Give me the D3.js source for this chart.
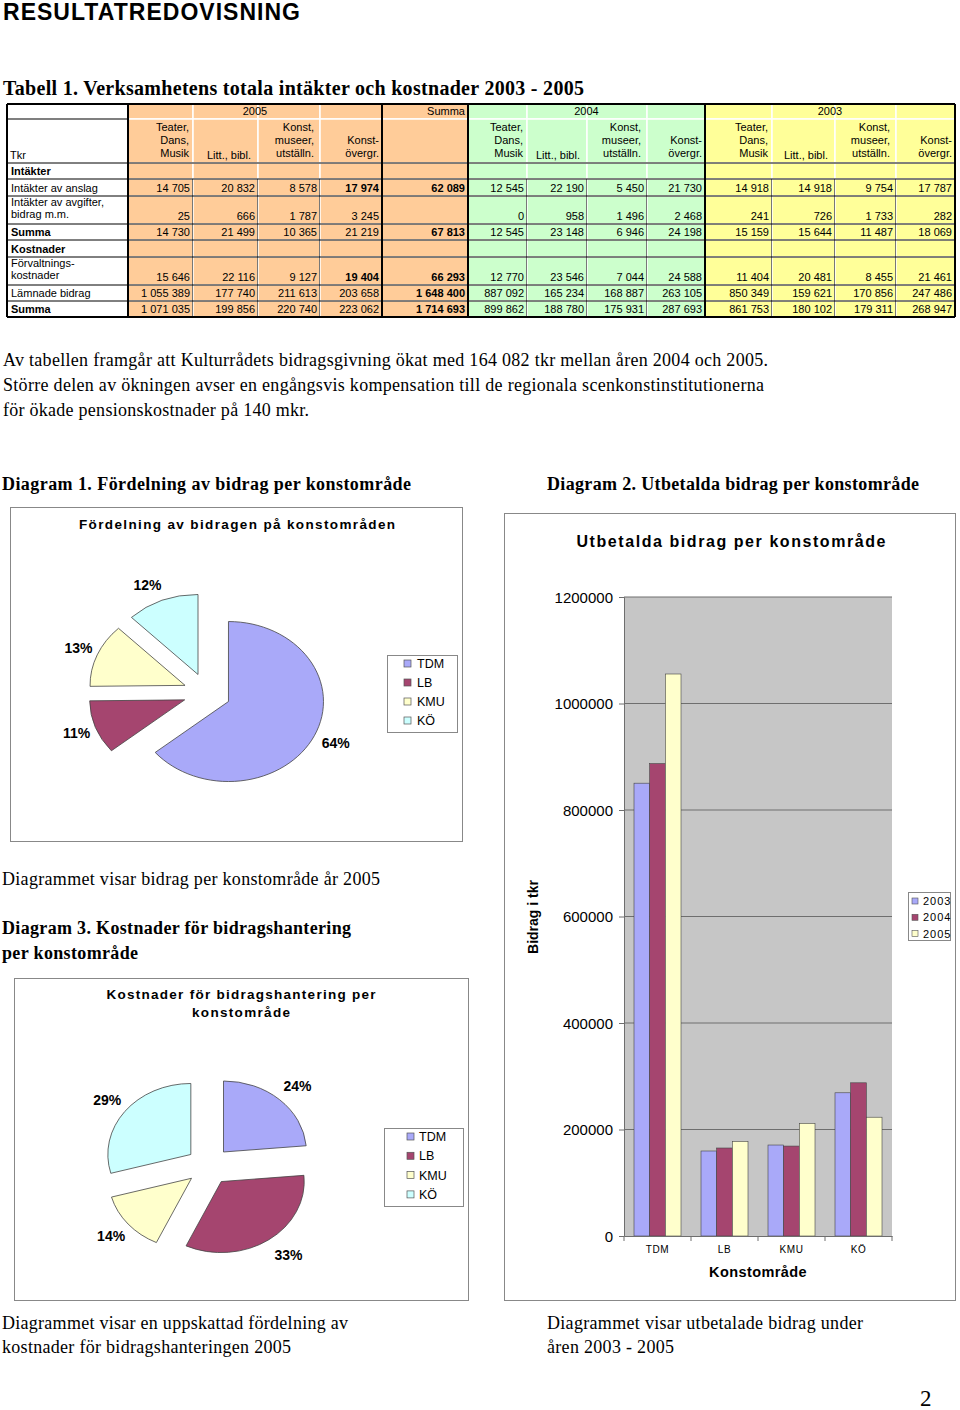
<!DOCTYPE html>
<html><head><meta charset="utf-8">
<script src="https://cdn.jsdelivr.net/npm/d3@7"></script>
<style>
html,body{margin:0;padding:0;background:#fff;}
svg{display:block;}
</style></head>
<body>
<script>
// ---------------- DATA ----------------
const categories = ["TDM", "LB", "KMU", "KÖ"];
const years = ["2003", "2004", "2005"];
// Diagram 2: utbetalda bidrag (tkr) per year
const bidrag2003 = [850349, 159621, 170856, 268947];
const bidrag2004 = [887092, 165234, 168887, 287693];
const bidrag2005 = [1055389, 177740, 211613, 223062];
const yTicks = [0, 200000, 400000, 600000, 800000, 1000000, 1200000];
// Diagram 1: lämnade bidrag 2005
const pie1Values = [1055389, 177740, 211613, 203658];
// Diagram 3: förvaltningskostnader 2005
const pie2Values = [15646, 22116, 9127, 19404];

// Table 1
const tableGroups = ["2005", "Summa", "2004", "2003"];
const tableColHeads = ["Teater,\nDans,\nMusik", "Litt., bibl.", "Konst,\nmuseer,\nutställn.", "Konst-\növergr."];
const rowLabels = [["Intäkter"], ["Intäkter av anslag"], ["Intäkter av avgifter,", " bidrag m.m."], ["Summa"], ["Kostnader"], ["Förvaltnings-", "kostnader"], ["Lämnade bidrag"], ["Summa"]];
const rowAnslag   = [14705, 20832, 8578, 17974, 62089, 12545, 22190, 5450, 21730, 14918, 14918, 9754, 17787];
const rowAvgifter = [25, 666, 1787, 3245, null, 0, 958, 1496, 2468, 241, 726, 1733, 282];
const rowSummaI   = [14730, 21499, 10365, 21219, 67813, 12545, 23148, 6946, 24198, 15159, 15644, 11487, 18069];
const rowForvalt  = [15646, 22116, 9127, 19404, 66293, 12770, 23546, 7044, 24588, 11404, 20481, 8455, 21461];
const rowLamnade  = [1055389, 177740, 211613, 203658, 1648400, 887092, 165234, 168887, 263105, 850349, 159621, 170856, 247486];
const rowSummaK   = [1071035, 199856, 220740, 223062, 1714693, 899862, 188780, 175931, 287693, 861753, 180102, 179311, 268947];

// ---------------- SETUP ----------------
const SANS = "'Liberation Sans', Arial, sans-serif";
const SERIF = "'Liberation Serif', 'Times New Roman', serif";
const seriesColors = ["#a9a9f9", "#a5456f", "#ffffcc", "#ccffff"];

const svg = d3.select("body").append("svg").attr("width", 960).attr("height", 1410);
svg.append("rect").attr("width", 960).attr("height", 1410).attr("fill", "#fff");

function txt(parent, x, y, s, o = {}) {
  const t = parent.append("text").attr("x", x).attr("y", y).text(s)
    .attr("font-family", o.family || SANS)
    .attr("font-size", o.size || 12)
    .attr("font-weight", o.bold ? "bold" : "normal")
    .attr("fill", o.fill || "#000")
    .attr("text-anchor", o.anchor || "start");
  if (o.len) t.attr("textLength", o.len).attr("lengthAdjust", "spacing");
  if (o.ls) t.attr("letter-spacing", o.ls);
  return t;
}

// ---------------- PAGE TEXT ----------------
txt(svg, 3, 20, "RESULTATREDOVISNING", {size: 23, bold: true, len: 297});
txt(svg, 3, 95, "Tabell 1. Verksamhetens totala intäkter och kostnader 2003 - 2005", {family: SERIF, size: 20, bold: true, len: 581});

txt(svg, 3, 366, "Av tabellen framgår att Kulturrådets bidragsgivning ökat med 164 082 tkr mellan åren 2004 och 2005.", {family: SERIF, size: 18, len: 765});
txt(svg, 3, 391, "Större delen av ökningen avser en engångsvis kompensation till de regionala scenkonstinstitutionerna", {family: SERIF, size: 18, len: 761});
txt(svg, 3, 416, "för ökade pensionskostnader på 140 mkr.", {family: SERIF, size: 18, len: 306});

txt(svg, 2, 490, "Diagram 1.  Fördelning av bidrag per konstområde", {family: SERIF, size: 18, bold: true, len: 409});
txt(svg, 547, 490, "Diagram 2. Utbetalda bidrag per konstområde", {family: SERIF, size: 18, bold: true, len: 372});

txt(svg, 2, 885, "Diagrammet visar bidrag per konstområde år 2005", {family: SERIF, size: 18, len: 378});
txt(svg, 2, 934, "Diagram 3. Kostnader för bidragshantering", {family: SERIF, size: 18, bold: true, len: 349});
txt(svg, 2, 959, "per konstområde", {family: SERIF, size: 18, bold: true, len: 136});

txt(svg, 2, 1329, "Diagrammet visar en uppskattad fördelning av", {family: SERIF, size: 18, len: 346});
txt(svg, 2, 1353, "kostnader för bidragshanteringen 2005", {family: SERIF, size: 18, len: 289});
txt(svg, 547, 1329, "Diagrammet visar utbetalade bidrag under", {family: SERIF, size: 18, len: 316});
txt(svg, 547, 1353, "åren 2003 - 2005", {family: SERIF, size: 18, len: 127});
txt(svg, 920, 1406, "2", {family: SERIF, size: 23});

// ---------------- TABLE ----------------
(function drawTable() {
  const sv = d3.formatLocale({decimal: ",", thousands: " ", grouping: [3], currency: ["", ""]}).format(",d");
  const xs = [7, 128, 193, 258, 320, 382, 468, 527, 587, 647, 705, 772, 835, 896, 955];
  const ys = [104, 119, 163, 179, 196, 224, 240, 257, 285, 301, 317];
  const fills = ["#ffcc99", "#ffcc99", "#ffcc99", "#ffcc99", "#ffcc99", "#ccffcc", "#ccffcc", "#ccffcc", "#ccffcc", "#ffff99", "#ffff99", "#ffff99", "#ffff99"];
  const grid = svg.append("g");
  const tg = svg.append("g");
  for (let r = 0; r < ys.length - 1; r++) {
    for (let c = 0; c < 13; c++) {
      grid.append("rect").attr("x", xs[c + 1]).attr("y", ys[r]).attr("width", xs[c + 2] - xs[c + 1]).attr("height", ys[r + 1] - ys[r])
        .attr("fill", fills[c]).attr("stroke", "#fff").attr("stroke-width", 1.5);
    }
  }
  for (let c = 1; c < 13; c++) {
    const x = xs[c + 1];
    if ([5, 6, 10].includes(c + 1)) continue;
    grid.append("line").attr("x1", x - 0.5).attr("x2", x - 0.5).attr("y1", ys[3]).attr("y2", ys[10]).attr("stroke", "#555").attr("stroke-width", 0.8);
  }
  ys.forEach((y, i) => {
    if (i === 1) {
      grid.append("line").attr("x1", xs[0]).attr("x2", xs[1]).attr("y1", y).attr("y2", y).attr("stroke", "#000").attr("stroke-width", 1.2);
    } else {
      grid.append("line").attr("x1", xs[0]).attr("x2", xs[14]).attr("y1", y).attr("y2", y).attr("stroke", "#000").attr("stroke-width", (i === 0 || i === 10) ? 2 : 1);
    }
  });
  [xs[0], xs[1], xs[5], xs[6], xs[10], xs[14]].forEach(x => {
    grid.append("line").attr("x1", x).attr("x2", x).attr("y1", ys[0]).attr("y2", ys[10]).attr("stroke", "#000").attr("stroke-width", 2);
  });
  const fs = 11;
  txt(tg, (xs[1] + xs[5]) / 2, 114.5, tableGroups[0], {size: fs, anchor: "middle"});
  txt(tg, xs[6] - 3, 114.5, tableGroups[1], {size: fs, anchor: "end"});
  txt(tg, (xs[6] + xs[10]) / 2, 114.5, tableGroups[2], {size: fs, anchor: "middle"});
  txt(tg, (xs[10] + xs[14]) / 2, 114.5, tableGroups[3], {size: fs, anchor: "middle"});
  txt(tg, 10, 159, "Tkr", {size: fs});
  const pads = [4, 7, 6, 3];
  [1, 6, 10].forEach(start => {
    tableColHeads.forEach((h, k) => {
      const lines = h.split("\n");
      const right = xs[start + k + 1] - pads[k];
      lines.forEach((ln, j) => {
        const y = (lines.length === 1 ? 159 : 157) - (lines.length - 1 - j) * 13;
        txt(tg, right, y, ln, {size: fs, anchor: "end"});
      });
    });
  });
  const rowsData = [null, rowAnslag, rowAvgifter, rowSummaI, null, rowForvalt, rowLamnade, rowSummaK];
  const boldLabel = [true, false, false, true, true, false, false, true];
  const boldCols = [[], [3, 4], [4], [4], [], [3, 4], [4], [4]];
  const numBase = [175, 191.5, 220, 236, 253, 280.5, 297, 313];
  rowLabels.forEach((lab, r) => {
    const top = ys[r + 2];
    if (lab.length === 1) {
      txt(tg, 11, numBase[r], lab[0], {size: fs, bold: boldLabel[r]});
    } else {
      txt(tg, 11, top + 9.5, lab[0], {size: fs});
      txt(tg, 11, top + 22, lab[1], {size: fs});
    }
    const vals = rowsData[r];
    if (!vals) return;
    vals.forEach((v, c) => {
      if (v === null) return;
      txt(tg, xs[c + 2] - 3, numBase[r], sv(v), {size: fs, bold: boldCols[r].includes(c), anchor: "end"});
    });
  });
})();

// ---------------- PIE HELPER ----------------
function drawPie(o) {
  const pie = d3.pie().sort(null).value(d => d).startAngle(0).endAngle(2 * Math.PI);
  const arcs = pie(o.values);
  const total = d3.sum(o.values);
  const arc = d3.arc().innerRadius(0).outerRadius(o.r);
  const g = svg.append("g").attr("transform", `translate(${o.cx},${o.cy}) scale(${o.sx},1)`);
  g.selectAll("path").data(arcs).join("path")
    .attr("d", arc)
    .attr("transform", d => {
      const m = (d.startAngle + d.endAngle) / 2;
      return `translate(${o.off * Math.sin(m)},${-o.off * Math.cos(m)})`;
    })
    .attr("fill", (d, i) => seriesColors[i])
    .attr("stroke", "#444").attr("stroke-width", 0.8)
    .attr("vector-effect", "non-scaling-stroke");
  const pct = d3.format(".0%");
  arcs.forEach((d, i) => {
    const m = (d.startAngle + d.endAngle) / 2;
    const dx = o.ldx ? o.ldx[i] : 0;
    txt(svg, o.cx + o.sx * o.lr * Math.sin(m) + dx, o.cy - o.lr * Math.cos(m) + 5, pct(d.value / total), {size: 14, bold: true, anchor: "middle"});
  });
  const L = o.legend;
  svg.append("rect").attr("x", L.x).attr("y", L.y).attr("width", L.w).attr("height", L.h)
    .attr("fill", "#fff").attr("stroke", "#888").attr("stroke-width", 1);
  categories.forEach((c, i) => {
    const y = L.y + L.first + i * L.step;
    svg.append("rect").attr("x", L.sqx).attr("y", y - 3.5).attr("width", 7).attr("height", 7)
      .attr("fill", seriesColors[i]).attr("stroke", "#555").attr("stroke-width", 0.7);
    txt(svg, L.tx, y + 4.5, c, {size: 12.5});
  });
}

// ---------------- DIAGRAM 1 ----------------
svg.append("rect").attr("x", 10.5).attr("y", 507.5).attr("width", 452).attr("height", 334)
  .attr("fill", "#fff").attr("stroke", "#888").attr("stroke-width", 1);
txt(svg, 237, 529, "Fördelning av bidragen på konstområden", {size: 13.5, bold: true, anchor: "middle", len: 316});
drawPie({values: pie1Values, cx: 207, cy: 693, r: 80, sx: 1.1875, off: 20, lr: 117, ldx: [3, 0, 0, -7],
  legend: {x: 387.5, y: 655.5, w: 70, h: 77, first: 8, step: 19, sqx: 404, tx: 417}});

// ---------------- DIAGRAM 3 ----------------
svg.append("rect").attr("x", 14.5).attr("y", 978.5).attr("width", 454).attr("height", 322)
  .attr("fill", "#fff").attr("stroke", "#888").attr("stroke-width", 1);
txt(svg, 241, 999, "Kostnader för bidragshantering per", {size: 13.5, bold: true, anchor: "middle", len: 269});
txt(svg, 241, 1017, "konstområde", {size: 13.5, bold: true, anchor: "middle", len: 98});
drawPie({values: pie2Values, cx: 208.5, cy: 1166, r: 71, sx: 1.169, off: 19, lr: 109, ldx: [3, 7, 0, 0],
  legend: {x: 384.5, y: 1128.5, w: 79, h: 78, first: 8, step: 19.3, sqx: 407, tx: 419}});

// ---------------- DIAGRAM 2 (bars) ----------------
(function drawBars() {
  svg.append("rect").attr("x", 504.5).attr("y", 513.5).attr("width", 451).attr("height", 787)
    .attr("fill", "#fff").attr("stroke", "#888").attr("stroke-width", 1);
  txt(svg, 731, 547, "Utbetalda bidrag per konstområde", {size: 16, bold: true, anchor: "middle", len: 309});

  const x0 = d3.scaleBand().domain(categories).range([624, 892]).paddingInner(0).paddingOuter(0);
  const x1 = d3.scaleBand().domain(years).range([10, x0.bandwidth() - 10]).padding(0);
  const y = d3.scaleLinear().domain([0, 1200000]).range([1236, 597]);

  svg.append("rect").attr("x", 624).attr("y", y(1200000)).attr("width", 268).attr("height", y(0) - y(1200000)).attr("fill", "#c6c6c6");
  svg.append("g").selectAll("line").data(yTicks.slice(1)).join("line")
    .attr("x1", 624).attr("x2", 892).attr("y1", d => y(d)).attr("y2", d => y(d))
    .attr("stroke", "#6e6e6e").attr("stroke-width", 1);

  const series = [bidrag2003, bidrag2004, bidrag2005];
  const gb = svg.append("g");
  categories.forEach((c, ci) => {
    years.forEach((yr, yi) => {
      gb.append("rect")
        .attr("x", x0(c) + x1(yr)).attr("width", x1.bandwidth())
        .attr("y", y(series[yi][ci])).attr("height", y(0) - y(series[yi][ci]))
        .attr("fill", seriesColors[yi]).attr("stroke", "#444").attr("stroke-width", 0.6);
    });
  });

  const ya = svg.append("g").attr("transform", "translate(624,0)")
    .call(d3.axisLeft(y).tickValues(yTicks).tickFormat(d3.format("d")).tickSize(5).tickPadding(6));
  ya.select(".domain").attr("stroke", "#6e6e6e");
  ya.selectAll(".tick line").attr("stroke", "#6e6e6e");
  ya.selectAll("text").attr("font-family", SANS).attr("font-size", 15).attr("fill", "#000").attr("dy", "0.35em");

  const xa = svg.append("g").attr("transform", "translate(0,1236)")
    .call(d3.axisBottom(x0).tickSize(0).tickPadding(10));
  xa.select(".domain").attr("stroke", "#6e6e6e");
  xa.selectAll("text").attr("font-family", SANS).attr("font-size", 10).attr("letter-spacing", 0.6).attr("fill", "#000");
  const bounds = categories.map(c => x0(c)).concat([x0.range()[1]]);
  svg.append("g").selectAll("line").data(bounds).join("line")
    .attr("x1", d => d).attr("x2", d => d).attr("y1", 1236).attr("y2", 1241).attr("stroke", "#6e6e6e");

  txt(svg, 758, 1277, "Konstområde", {size: 14.5, bold: true, anchor: "middle", ls: 0.4});
  txt(svg, 0, 0, "Bidrag i tkr", {size: 14, bold: true, anchor: "middle"}).attr("transform", "translate(538,917) rotate(-90)");

  svg.append("rect").attr("x", 908.5).attr("y", 892.5).attr("width", 42).attr("height", 48)
    .attr("fill", "#fff").attr("stroke", "#888").attr("stroke-width", 1);
  years.forEach((yr, i) => {
    const yy = 901 + i * 16.3;
    svg.append("rect").attr("x", 912).attr("y", yy - 3).attr("width", 6).attr("height", 6)
      .attr("fill", seriesColors[i]).attr("stroke", "#555").attr("stroke-width", 0.6);
    txt(svg, 923, yy + 4, yr, {size: 11, ls: 1});
  });
})();
</script>
</body></html>
